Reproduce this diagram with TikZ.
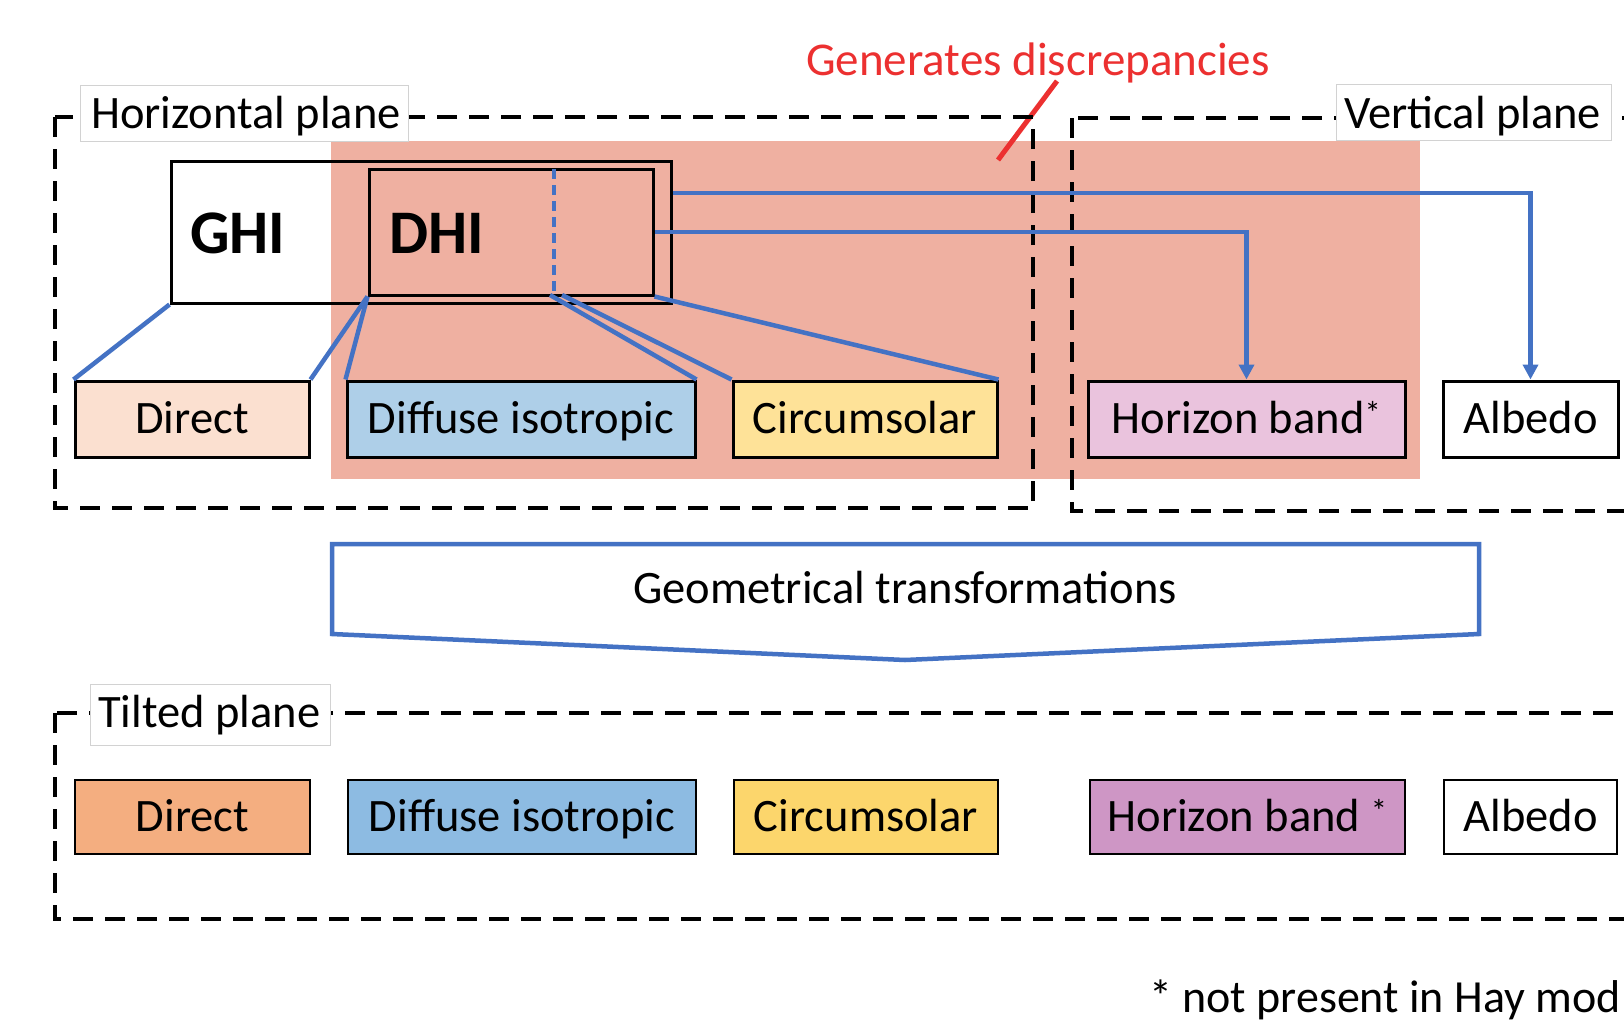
\documentclass[tikz,border=0pt]{standalone}
\usepackage{fontspec}
\setmainfont{Carlito}
\usetikzlibrary{arrows.meta}
\definecolor{cblue}{RGB}{68,114,196}
\definecolor{salmon}{RGB}{239,176,161}
\definecolor{cred}{RGB}{236,48,48}
\definecolor{hdir}{RGB}{251,224,208}
\definecolor{hdif}{RGB}{174,207,232}
\definecolor{hcir}{RGB}{254,226,152}
\definecolor{hhor}{RGB}{234,195,221}
\definecolor{tdir}{RGB}{244,174,128}
\definecolor{tdif}{RGB}{141,187,226}
\definecolor{tcir}{RGB}{252,214,108}
\definecolor{thor}{RGB}{206,150,197}
\definecolor{lblgray}{RGB}{210,210,210}
\newcommand{\myfs}[1]{\fontsize{#1}{#1}\selectfont}
\tikzset{
  compbox/.style={draw=black, line width=3pt, inner sep=0pt, minimum height=76pt,
    text height=29pt, text depth=0pt, font=\myfs{46.5}},
  tcompbox/.style={compbox, line width=2.5pt, minimum height=74pt},
  planebox/.style={draw=black, dashed, dash pattern=on 20pt off 12pt, line width=4pt},
  lblbox/.style={draw=lblgray, fill=white, line width=1pt},
  lbltext/.style={anchor=base west, inner sep=0pt, font=\myfs{46.5}},
  conn/.style={draw=cblue, line width=4.5pt},
  arr/.style={conn, -{Triangle[length=15pt,width=15pt]}},
  frame/.style={draw=black, line width=3pt}
}
\begin{document}
\begin{tikzpicture}[x=1pt,y=-1pt]
\useasboundingbox (0,0) rectangle (1624,1028);
\clip (0,0) rectangle (1624,1028);
\fill[white] (0,0) rectangle (1624,1028);
% salmon highlight
\fill[salmon] (331,141) rectangle (1420,479);
% red note
\node[anchor=base west, inner sep=0pt, text=cred, font=\myfs{47}] (gen) at (806,75) {Generates discrepancies};
\coordinate (redA) at (1057,81);
\coordinate (redB) at (998,160);
\draw[cred, line width=5pt] (redA) -- (redB);
% plane frames
\draw[planebox] (55,117) rectangle (1033,508);
\draw[planebox] (1072,118) rectangle (1700,511);
\draw[planebox] (55,713) rectangle (1700,919);
% labels
\draw[lblbox] (80,85) rectangle (408,141);
\node[lbltext] (lblH) at (91,128) {Horizontal plane};
\draw[lblbox] (1336,84) rectangle (1611,140);
\node[lbltext] (lblV) at (1344,128) {Vertical plane};
\draw[lblbox] (90,684) rectangle (330,745);
\node[lbltext] (lblT) at (98,727) {Tilted plane};
% GHI and DHI
\node[frame, inner sep=0pt, minimum width=500pt, minimum height=142pt] (GHI) at (421,232) {};
\node[frame, inner sep=0pt, minimum width=284pt, minimum height=126pt] (DHI) at (511,232) {};
\node[anchor=base west, inner sep=0pt, font=\bfseries\myfs{62}] (ghit) at (190,253) {GHI};
\node[anchor=base west, inner sep=0pt, font=\bfseries\myfs{62}] (dhit) at (389,253) {DHI};
\coordinate (dtop) at (554,169);
\coordinate (dbot) at (554,295);
\draw[cblue, line width=3.5pt, dash pattern=on 10pt off 6pt] (dtop) -- (dbot);
% horizontal plane components
\node[compbox, fill=hdir, minimum width=234pt] (hDir) at (192,419) {Direct};
\node[compbox, fill=hdif, minimum width=348pt] (hDif) at (521,419) {Diffuse isotropic};
\node[compbox, fill=hcir, minimum width=264pt] (hCir) at (865,419) {Circumsolar};
\node[compbox, fill=hhor, minimum width=317pt] (hHor) at (1246.5,419) {Horizon band\textsuperscript{*}};
\node[compbox, fill=white, minimum width=175pt] (hAlb) at (1530.5,419) {Albedo};
% connectors
\coordinate (d1) at (550,295);
\coordinate (d2) at (562,295);
\draw[conn] (GHI.south west) -- (hDir.north west);
\draw[conn] (DHI.south west) -- (hDir.north east);
\draw[conn] (DHI.south west) -- (hDif.north west);
\draw[conn] (d1) -- (hDif.north east);
\draw[conn] (d2) -- (hCir.north west);
\draw[conn] (DHI.south east) -- (hCir.north east);
\draw[arr] (DHI.east) -| (hHor.north);
\draw[arr] ([yshift=39pt]GHI.east) -| (hAlb.north);
% geometrical transformations
\coordinate (g1) at (332,544);
\coordinate (g2) at (1479,544);
\coordinate (g3) at (1479,634);
\coordinate (g4) at (905,660);
\coordinate (g5) at (332,634);
\draw[cblue, line width=4.5pt, fill=white, line join=miter] (g1) -- (g2) -- (g3) -- (g4) -- (g5) -- cycle;
\node[anchor=base, inner sep=0pt, font=\myfs{46.5}] (geo) at (905,603) {Geometrical transformations};
% tilted plane components
\node[tcompbox, fill=tdir, minimum width=235pt] (tDir) at (192.5,817) {Direct};
\node[tcompbox, fill=tdif, minimum width=348pt] (tDif) at (522,817) {Diffuse isotropic};
\node[tcompbox, fill=tcir, minimum width=264pt] (tCir) at (866,817) {Circumsolar};
\node[tcompbox, fill=thor, minimum width=315pt] (tHor) at (1247.5,817) {Horizon band \textsuperscript{*}};
\node[tcompbox, fill=white, minimum width=173pt] (tAlb) at (1530.5,817) {Albedo};
% footnote
\node[anchor=base east, inner sep=0pt, font=\myfs{46}] (foot) at (1621,1012) {* not present in Hay mod};
\end{tikzpicture}
\end{document}
